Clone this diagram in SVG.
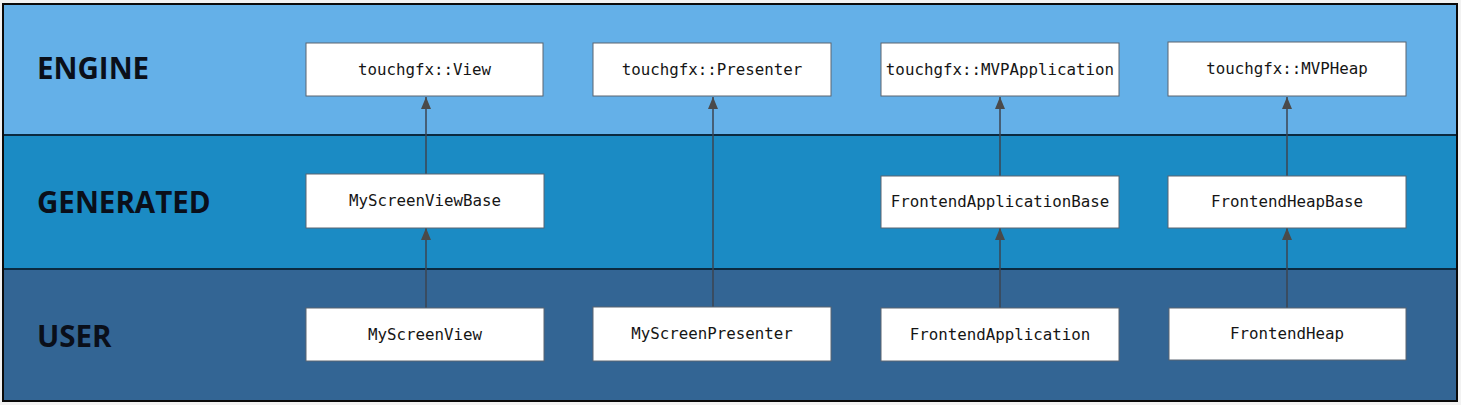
<svg xmlns="http://www.w3.org/2000/svg" width="1461" height="405" viewBox="0 0 1461 405">
  <defs>
    <style>
      .layer-label { font-family: "Open Sans", "Noto Sans", "DejaVu Sans", sans-serif; font-weight: bold; font-size: 29.5px; fill: #0a0f1a; }
      .box { fill: #ffffff; stroke: #5a6470; stroke-width: 1; }
      .cls { font-family: "DejaVu Sans Mono", "Liberation Mono", monospace; font-size: 15.8px; fill: #151515; text-anchor: middle; }
      .conn { stroke: #3c4450; stroke-width: 1.5; fill: none; marker-end: url(#tri); }
      .sep { stroke: #0b2a40; stroke-width: 2; }
    </style>
    <marker id="tri" viewBox="0 0 12 10" refX="12" refY="5" markerWidth="12" markerHeight="10" markerUnits="userSpaceOnUse" orient="auto">
      <path d="M0,0 L12,5 L0,10 Z" fill="#4a4a4a"/>
    </marker>
  </defs>
  <rect x="0" y="0" width="1461" height="405" fill="#f2f2f2"/>
  <g id="layers">
    <rect x="3" y="4" width="1454" height="131" fill="#64b0e8"/>
    <rect x="3" y="135" width="1454" height="134" fill="#1b8bc4"/>
    <rect x="3" y="269" width="1454" height="132" fill="#336594"/>
    <line class="sep" x1="3" y1="135" x2="1457" y2="135"/>
    <line class="sep" x1="3" y1="269" x2="1457" y2="269"/>
    <rect x="3" y="4" width="1454" height="397" fill="none" stroke="#0a0a0a" stroke-width="2"/>
    <text class="layer-label" x="37" y="79">ENGINE</text>
    <text class="layer-label" x="37" y="213">GENERATED</text>
    <text class="layer-label" x="37" y="347">USER</text>
  </g>
  <g id="connectors">
    <line class="conn" x1="426" y1="174" x2="426" y2="97"/>
    <line class="conn" x1="426" y1="308" x2="426" y2="228"/>
    <line class="conn" x1="713" y1="307" x2="713" y2="97"/>
    <line class="conn" x1="1000" y1="176" x2="1000" y2="97"/>
    <line class="conn" x1="1000" y1="308" x2="1000" y2="228"/>
    <line class="conn" x1="1287" y1="176" x2="1287" y2="97"/>
    <line class="conn" x1="1287" y1="308" x2="1287" y2="228"/>
  </g>
  <g id="view"><rect class="box" x="306" y="43" width="237" height="53"/><text class="cls" x="424.5" y="75">touchgfx::View</text></g>
  <g id="presenter"><rect class="box" x="593" y="43" width="238" height="53"/><text class="cls" x="712" y="75">touchgfx::Presenter</text></g>
  <g id="mvpapplication"><rect class="box" x="881" y="43" width="238" height="53"/><text class="cls" x="1000" y="75">touchgfx::MVPApplication</text></g>
  <g id="mvpheap"><rect class="box" x="1168" y="42" width="238" height="54"/><text class="cls" x="1287" y="74">touchgfx::MVPHeap</text></g>
  <g id="myscreenviewbase"><rect class="box" x="306" y="174" width="238" height="54"/><text class="cls" x="425" y="206">MyScreenViewBase</text></g>
  <g id="frontendapplicationbase"><rect class="box" x="881" y="176" width="238" height="52"/><text class="cls" x="1000" y="207">FrontendApplicationBase</text></g>
  <g id="frontendheapbase"><rect class="box" x="1168" y="176" width="238" height="52"/><text class="cls" x="1287" y="207">FrontendHeapBase</text></g>
  <g id="myscreenview"><rect class="box" x="306" y="308" width="238" height="53"/><text class="cls" x="425" y="340">MyScreenView</text></g>
  <g id="myscreenpresenter"><rect class="box" x="593" y="307" width="238" height="54"/><text class="cls" x="712" y="339">MyScreenPresenter</text></g>
  <g id="frontendapplication"><rect class="box" x="881" y="308" width="238" height="53"/><text class="cls" x="1000" y="340">FrontendApplication</text></g>
  <g id="frontendheap"><rect class="box" x="1169" y="308" width="237" height="52"/><text class="cls" x="1287" y="339">FrontendHeap</text></g>
</svg>
